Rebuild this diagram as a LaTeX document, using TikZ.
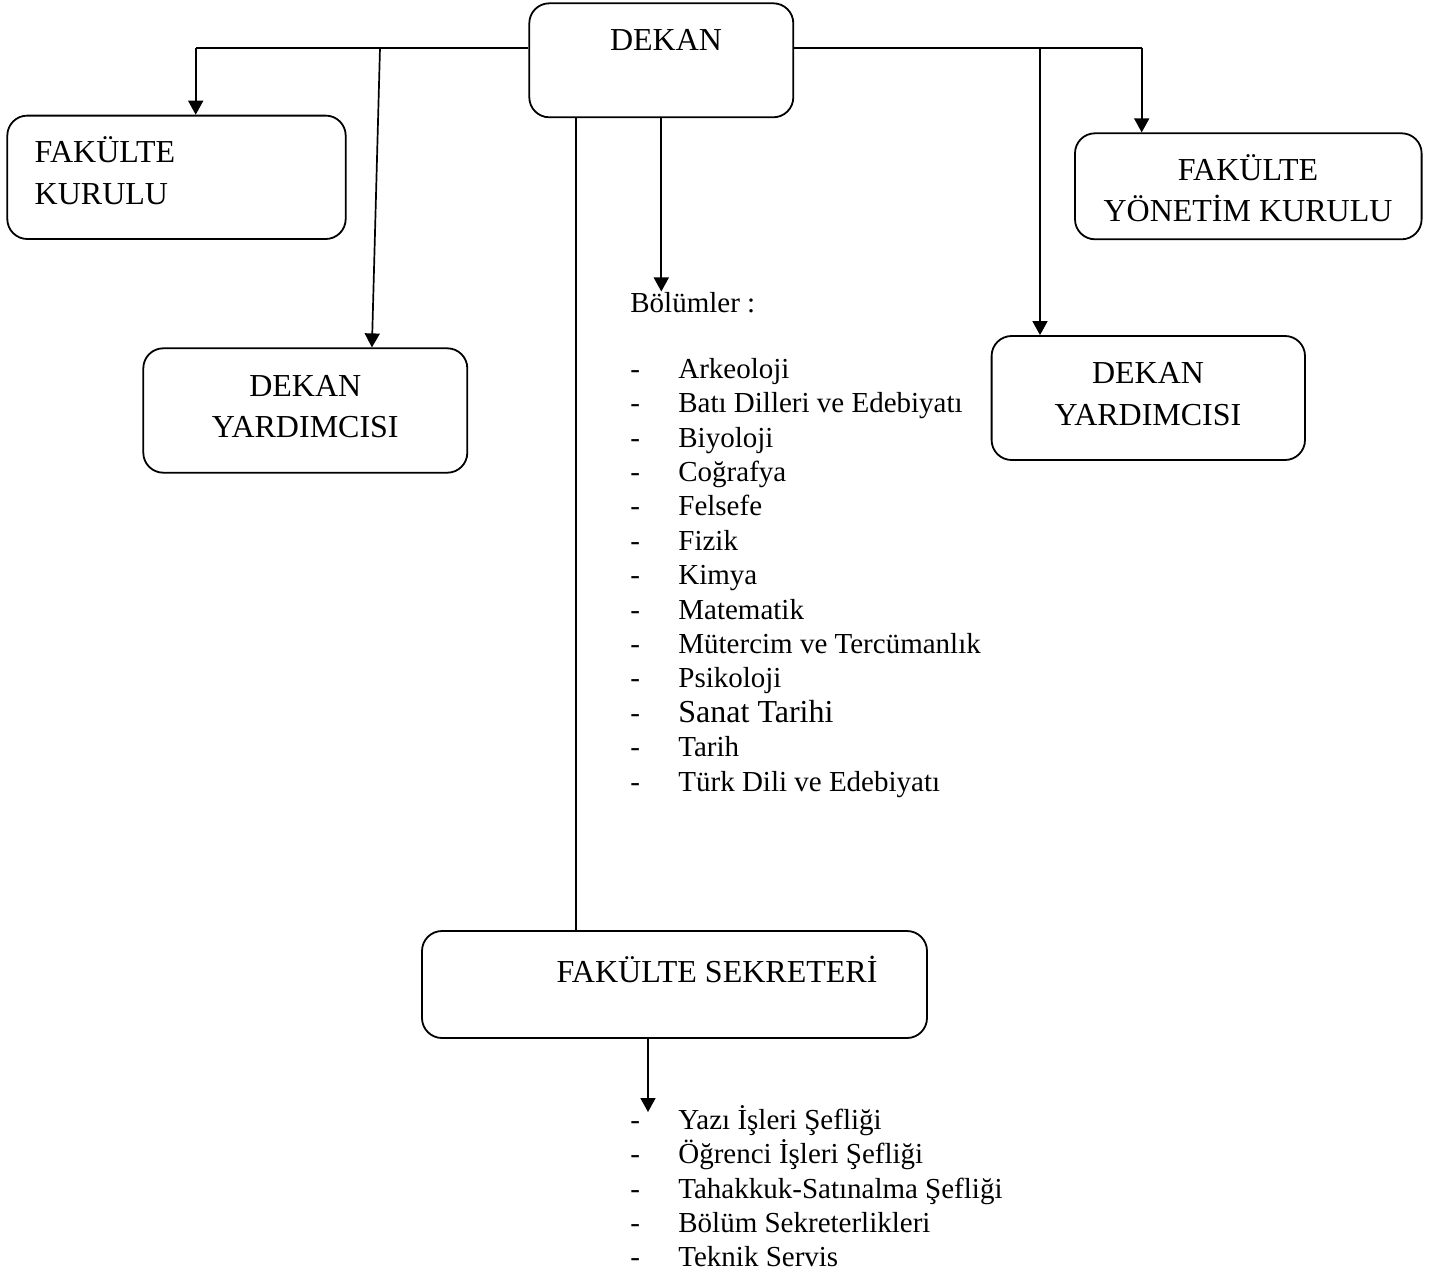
\documentclass[tikz,border=0pt]{standalone}
\usepackage{fontspec}
\setmainfont{Liberation Serif}
\usepackage{tikz}
\usetikzlibrary{arrows.meta,positioning}

\begin{document}
\begin{tikzpicture}[x=0.5pt, y=-0.5pt,
    box/.style={draw, line width=0.9pt, rounded corners=10pt},
    ttl/.style={font=\fontsize{16}{20.7}\selectfont, inner sep=0pt},
    lst/.style={font=\fontsize{14.5}{17.2}\selectfont, inner sep=0pt},
    arr/.style={line width=0.85pt, -{Triangle[length=7pt,width=7.5pt]}},
    ln/.style={line width=0.85pt}]
    \useasboundingbox (0,0) rectangle (1436,1274);

    \node[box, minimum width=132pt, minimum height=57pt](dekan) at (661.3,60.3){};
    \node[ttl, anchor=base](dekanT) at (666,50.7){DEKAN};
    \node[box, minimum width=169.2pt, minimum height=61.7pt](kurul) at (176.5,177.3){};
    \node[ttl, anchor=base west, align=left](kurulT) at (34.3,204){FAKÜLTE\\KURULU};
    \node[box, minimum width=162pt, minimum height=62.2pt](yard1) at (305.3,410.5){};
    \node[ttl, anchor=base, align=center](yard1T) at (305.3,437.7){DEKAN\\YARDIMCISI};
    \node[box, minimum width=173.3pt, minimum height=53pt](yonetim) at (1248.3,186.3){};
    \node[ttl, anchor=base, align=center](yonetimT) at (1248,221.7){FAKÜLTE\\YÖNETİM KURULU};
    \node[box, minimum width=156.7pt, minimum height=62pt](yard2) at (1148.3,398){};
    \node[ttl, anchor=base, align=center](yard2T) at (1148,425){DEKAN\\YARDIMCISI};
    \node[box, minimum width=252.5pt, minimum height=53.5pt](sekreter) at (674.5,984.5){};
    \node[ttl, anchor=base](sekreterT) at (717,982){FAKÜLTE SEKRETERİ};

    \node[lst, anchor=base west](bolum) at (630,312){Bölümler :};
    \node[lst, anchor=base west](dept) at (630,378.3){\begin{tabular}[t]{@{}p{24pt}@{}l@{}}
        - & Arkeoloji\\
        - & Batı Dilleri ve Edebiyatı\\
        - & Biyoloji\\
        - & Coğrafya\\
        - & Felsefe\\
        - & Fizik\\
        - & Kimya\\
        - & Matematik\\
        - & Mütercim ve Tercümanlık\\
        - & Psikoloji\\
        - & {\fontsize{16}{17.2}\selectfont Sanat Tarihi}\\
        - & Tarih\\
        - & Türk Dili ve Edebiyatı
    \end{tabular}};
    \node[lst, anchor=base west](isler) at (630,1129.3){\begin{tabular}[t]{@{}p{24pt}@{}l@{}}
        - & Yazı İşleri Şefliği\\
        - & Öğrenci İşleri Şefliği\\
        - & Tahakkuk-Satınalma Şefliği\\
        - & Bölüm Sekreterlikleri\\
        - & Teknik Servis
    \end{tabular}};

    \coordinate (jl) at (195.7,47.7);
    \coordinate (sl) at (380,47.7);
    \coordinate (sr) at (1040,47.7);
    \coordinate (jr) at (1141.7,47.7);
    \coordinate (tip) at (648,1112);

    \draw[ln] (dekan.west |- jl) -- (jl);
    \draw[arr] (jl) -- (jl |- kurul.north);
    \draw[arr] (sl) -- ([xshift=33.3pt]yard1.north);
    \draw[ln] (dekan.east |- jr) -- (jr);
    \draw[arr] (jr) -- (jr |- yonetim.north);
    \draw[arr] (sr) -- (sr |- yard2.north);
    \draw[arr] (dekan.south) -- (dekan.south |- bolum.north);
    \draw[ln] ([xshift=-42.65pt]dekan.south) -- ([xshift=-42.65pt]dekan.south |- sekreter.north);
    \draw[arr] (sekreter.south -| tip) -- (tip);
\end{tikzpicture}
\end{document}
